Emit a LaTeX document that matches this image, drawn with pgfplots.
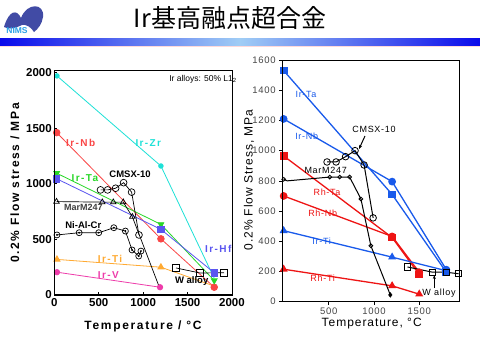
\documentclass[border=0pt]{standalone}
\usepackage{fontspec}
\setmainfont{Liberation Sans}
\newfontfamily\cjk{Noto Sans CJK JP}
\newfontfamily\spaced[LetterSpace=14]{Liberation Sans}
\newfontfamily\rspaced[LetterSpace=8]{Liberation Sans}
\usepackage{pgfplots}
\pgfplotsset{compat=1.18}
\usetikzlibrary{shadings,arrows.meta}
\definecolor{lcyan}{RGB}{30,225,215}
\definecolor{lred}{RGB}{250,70,70}
\definecolor{lgreen}{RGB}{40,215,40}
\definecolor{lpurple}{RGB}{90,85,240}
\definecolor{lorange}{RGB}{255,170,50}
\definecolor{lpink}{RGB}{238,60,170}
\definecolor{rblue}{RGB}{25,90,235}
\definecolor{rred}{RGB}{238,20,20}
\definecolor{bardark}{RGB}{10,10,235}
\definecolor{barlight}{RGB}{160,205,245}
\definecolor{logoblue}{RGB}{65,75,165}
\definecolor{logocyan}{RGB}{40,160,230}
\definecolor{tickgray}{RGB}{70,70,70}
\begin{document}
\begin{tikzpicture}
\fill[white] (0pt,0pt) rectangle (480pt,360pt);
% logo
\fill[logoblue] (4pt,333pt) .. controls (9pt,350pt) and (17pt,351pt) .. (21pt,342pt)
  .. controls (27pt,358pt) and (45pt,357pt) .. (43pt,343pt)
  .. controls (42pt,336pt) and (38pt,331pt) .. (34pt,328pt)
  .. controls (31pt,333pt) and (26pt,336pt) .. (22pt,335pt)
  .. controls (16pt,332pt) and (9pt,330pt) .. (4pt,333pt) -- cycle;
\node[font=\bfseries\fontsize{8.5}{9}\selectfont, text=logocyan, inner sep=0pt] at (17pt,329pt) {NIMS};
% title
\node[font=\cjk\fontsize{25}{26}\selectfont, inner sep=0pt] at (230pt,342pt) {Ir基高融点超合金};
% bar
\shade[left color=bardark, right color=bardark, middle color=barlight] (0pt,314.5pt) rectangle (480pt,322pt);
\draw[pink!60!white, line width=0.6pt] (0pt,314pt) -- (480pt,314pt);

% ===== left chart =====
\begin{axis}[at={(54.3pt,65pt)}, anchor=south west, scale only axis,
  width=177.7pt, height=225pt,
  xmin=0, xmax=2000, ymin=0, ymax=2023,
  xtick={0,500,1000,1500,2000}, ytick={0,500,1000,1500,2000},
  tick pos=left, tick align=inside, major tick length=3pt,
  tick style={black, line width=0.8pt},
  ticklabel style={font=\bfseries\fontsize{11.5}{12}\selectfont},
  yticklabel style={xshift=1pt},
  /pgf/number format/assume math mode=true,
  /pgf/number format/1000 sep={},
  axis line style={line width=0.8pt}]
\addplot[lcyan, line width=0.8pt, mark=*, mark size=2.3, mark indices={1,2}] coordinates {(30,1970) (1200,1160) (1800,150)};
\addplot[lred, line width=0.8pt, mark=*, mark size=3.3] coordinates {(27,1460) (1200,505) (1800,70)};
\addplot[lgreen, line width=0.8pt, mark=triangle*, mark size=3.3, mark options={rotate=180}] coordinates {(27,1095) (1200,635) (1800,130)};
\addplot[lpurple, line width=0.8pt, mark=square*, mark size=3.2] coordinates {(27,1045) (1200,590) (1800,200)};
\addplot[lorange, line width=0.8pt, mark=triangle*, mark size=3.5, mark indices={1,2}] coordinates {(30,320) (1200,250) (1800,80)};
\addplot[lpink, line width=0.8pt, mark=*, mark size=2.7] coordinates {(30,205) (1190,70)};
\addplot[black, line width=0.7pt, mark=square, mark size=3.2, mark options={fill=white, line width=0.8pt}] coordinates {(1370,243) (1640,198) (1910,200)};
\addplot[black, line width=0.7pt, mark=triangle, mark size=3.2, mark options={fill=white, line width=0.7pt}, mark indices={1,2,3,4,5}] coordinates {(25,840) (540,835) (664,835) (776,835) (878,704) (1180,75)};
\addplot[black, line width=0.7pt, mark=o, mark size=3.4, mark options={fill=white, line width=0.7pt}] coordinates {(520,945) (600,945) (690,960) (780,1010) (870,925) (953,540)};
\addplot[black, line width=0.7pt, mark=o, mark size=3.0, mark options={fill=white, line width=0.7pt}] coordinates {(30,540) (280,560) (500,560) (670,605) (800,575) (875,405) (950,350) (975,395)};
\addplot[only marks, black, mark=*, mark size=0.7] coordinates {(30,540) (280,560) (500,560) (670,605) (800,575) (875,405) (950,350) (975,395)};
\end{axis}
\draw[line width=1.6pt] (54.3pt,290pt) |- (232pt,65pt);
\node[font=\fontsize{8.5}{9}\selectfont, inner sep=0pt] at (203pt,281pt) {Ir alloys: 50\% L1\textsubscript{2}};
\node[font=\spaced\bfseries\fontsize{10}{10}\selectfont, text=lcyan] at (148.3pt,217.3pt) {Ir-Zr};
\node[font=\spaced\bfseries\fontsize{10}{10}\selectfont, text=lred] at (80.7pt,217.3pt) {Ir-Nb};
\node[font=\spaced\bfseries\fontsize{10}{10}\selectfont, text=lgreen] at (85pt,182.3pt) {Ir-Ta};
\node[font=\bfseries\fontsize{9.5}{10}\selectfont] at (130pt,186pt) {CMSX-10};
\node[font=\bfseries\fontsize{9}{10}\selectfont, text=black!75] at (83.3pt,152.7pt) {MarM247};
\node[font=\bfseries\fontsize{9.5}{10}\selectfont] at (83.3pt,135pt) {Ni-Al-Cr};
\node[font=\spaced\bfseries\fontsize{10}{10}\selectfont, text=lorange] at (110pt,101pt) {Ir-Ti};
\node[font=\spaced\bfseries\fontsize{10}{10}\selectfont, text=lpink] at (108.3pt,85pt) {Ir-V};
\node[font=\spaced\bfseries\fontsize{10}{10}\selectfont, text=lpurple] at (218.3pt,111pt) {Ir-Hf};
\node[font=\bfseries\fontsize{9.5}{10}\selectfont] at (191.7pt,79.3pt) {W alloy};
\node[font=\spaced\bfseries\fontsize{12}{12}\selectfont, rotate=90] at (15pt,177pt) {0.2\% Flow stress / MPa};
\node[font=\spaced\bfseries\fontsize{12}{12}\selectfont] at (143pt,34pt) {Temperature / °C};

% ===== right chart =====
\begin{axis}[at={(282.3pt,58.3pt)}, anchor=south west, scale only axis,
  width=176.7pt, height=241.7pt,
  xmin=-15, xmax=1940, ymin=0, ymax=1600,
  xtick={500,1000,1500}, ytick={0,200,400,600,800,1000,1200,1400,1600},
  tick pos=left, tick align=outside, major tick length=3pt,
  tick style={black, line width=0.7pt},
  ticklabel style={font=\rspaced\fontsize{9.5}{10}\selectfont, text=tickgray},
  /pgf/number format/assume math mode=true,
  /pgf/number format/1000 sep={},
  axis line style={line width=0.8pt}]
\addplot[rred, line width=1.3pt, mark=square*, mark size=3.2] coordinates {(0,965) (1200,425) (1500,180)};
\addplot[rred, line width=1.3pt, mark=*, mark size=3.2] coordinates {(0,700) (1200,432) (1500,195)};
\addplot[rred, line width=1.3pt, mark=triangle*, mark size=3.4] coordinates {(0,215) (1200,105) (1500,50)};
\addplot[rblue, line width=1.3pt, mark=triangle*, mark size=3.4] coordinates {(0,470) (1200,295) (1800,205)};
\addplot[rblue, line width=1.3pt, mark=square*, mark size=3.2] coordinates {(0,1530) (1200,710) (1800,195)};
\addplot[rblue, line width=1.3pt, mark=*, mark size=3.2] coordinates {(0,1210) (1200,795) (1800,212)};
\addplot[black, line width=1pt, mark=o, mark size=1.9, mark options={fill=white, line width=0.8pt}, mark indices={1,3,4,5,6,7}] coordinates {(0,810) (40,800) (510,825) (620,825) (730,825) (855,680) (965,370) (1180,45)};
\addplot[only marks, black, mark=diamond*, mark size=2.4] coordinates {(1180,45)};
\addplot[black, line width=1pt, mark=o, mark size=3.3, mark options={fill=white, line width=0.8pt}] coordinates {(480,925) (580,925) (685,960) (790,1000) (890,905) (990,555)};
\addplot[black, line width=1pt, mark=square, mark size=3.1, mark options={fill=white, line width=0.8pt}] coordinates {(1370,230) (1650,195) (1800,195) (1935,185)};
\end{axis}
\draw[line width=1.4pt] (282.3pt,300pt) |- (459pt,58.3pt);
\node[font=\rspaced\fontsize{9}{10}\selectfont, text=rblue] at (306pt,266pt) {Ir-Ta};
\node[font=\rspaced\fontsize{9}{10}\selectfont, text=rblue] at (306.7pt,223.3pt) {Ir-Nb};
\node[font=\rspaced\fontsize{9}{10}\selectfont] at (374pt,231pt) {CMSX-10};
\draw[-{Stealth[length=4pt]}, line width=1pt] (365pt,224pt) -- (359pt,211pt);
\node[font=\rspaced\fontsize{9}{10}\selectfont] at (325.7pt,189.3pt) {MarM247};
\node[font=\rspaced\fontsize{9}{10}\selectfont, text=rred] at (327pt,167.3pt) {Rh-Ta};
\node[font=\rspaced\fontsize{9}{10}\selectfont, text=rred] at (322.7pt,146.7pt) {Rh-Nb};
\node[font=\rspaced\fontsize{9}{10}\selectfont, text=rblue] at (321.7pt,118.3pt) {Ir-Ti};
\node[font=\rspaced\fontsize{9}{10}\selectfont, text=rred] at (322.7pt,81.7pt) {Rh-Ti};
\node[font=\rspaced\fontsize{9}{10}\selectfont] at (439pt,66.7pt) {W alloy};
\draw[-{Stealth[length=4pt]}, line width=1pt] (434.3pt,72pt) -- (434.3pt,85pt);
\node[font=\rspaced\fontsize{12}{12}\selectfont] at (371.7pt,36pt) {Temperature, °C};
\node[font=\rspaced\fontsize{12}{12}\selectfont, rotate=90] at (249pt,180pt) {0.2\% Flow Stress, MPa};
\pgfresetboundingbox
\path (0pt,0pt) rectangle (480pt,360pt);
\end{tikzpicture}
\end{document}
